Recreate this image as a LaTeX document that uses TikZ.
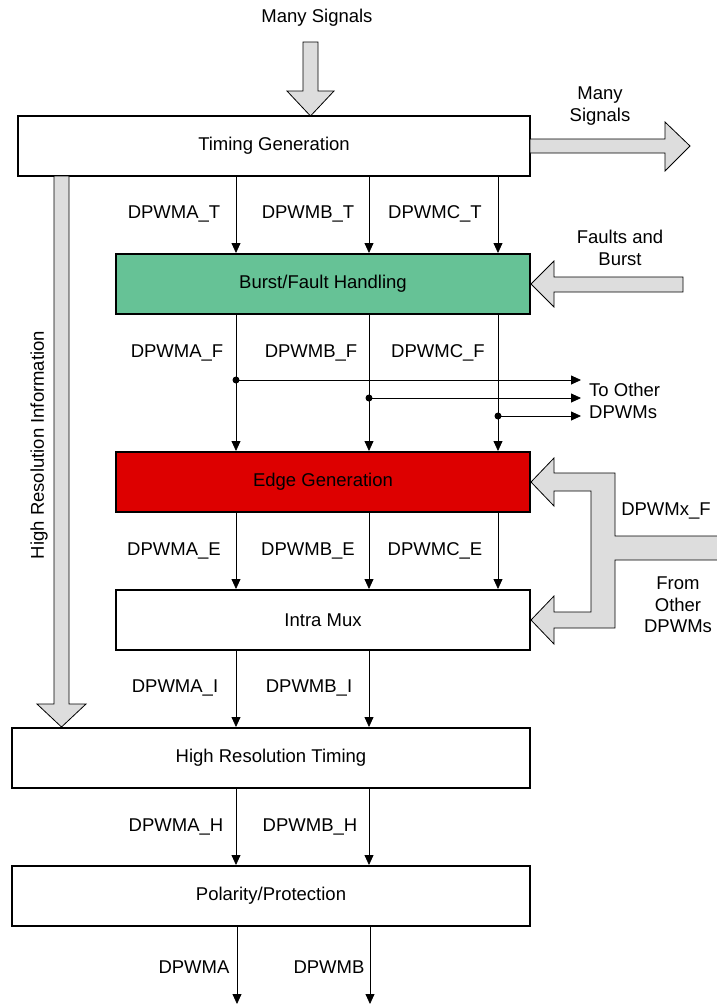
\documentclass[tikz,border=0pt]{standalone}
\usepackage{fontspec}
\setmainfont{Liberation Sans}
\usepackage{tikz}
\usetikzlibrary{shapes,arrows.meta}
\definecolor{burstgreen}{RGB}{102,194,150}
\definecolor{edgered}{RGB}{221,0,0}
\definecolor{bargray}{RGB}{221,221,221}

\begin{document}
\begin{tikzpicture}[x=1pt,y=-1pt,font=\fontsize{18.5pt}{21.5pt}\selectfont,
    block/.style={rectangle,draw,line width=2pt,minimum height=60pt,inner sep=0pt},
    sig/.style={-{Triangle[length=10pt,width=9pt]},line width=0.8pt},
    bigarrow/.style={draw,line width=0.8pt,fill=bargray},
    lbl/.style={inner sep=0pt,align=center}]
    \useasboundingbox (0,0) rectangle (716,1005);
    \coordinate (colA) at (236,0);
    \coordinate (colB) at (369,0);
    \coordinate (colC) at (498,0);
    \node [block,minimum width=512pt] (timing) at (274,146) {Timing Generation};
    \node [block,minimum width=414pt,fill=burstgreen] (burst) at (323,284) {Burst/Fault Handling};
    \node [block,minimum width=414pt,fill=edgered, below of=burst,node distance=198pt] (edge) {Edge Generation};
    \node [block,minimum width=414pt, below of=edge,node distance=138pt] (intramux) {Intra Mux};
    \node [block,minimum width=518pt] (hrtiming) at (271,758) {High Resolution Timing};
    \node [block,minimum width=518pt, below of=hrtiming,node distance=138pt] (polarity) {Polarity/Protection};
    \node [lbl] (manyTop) at (317,18) {Many Signals};
    \node [lbl] (manyRight) at (600,106) {Many\\Signals};
    \node [lbl] (faults) at (620,248) {Faults and\\Burst};
    \node [lbl,align=left,anchor=west] (toOther) at (589,401) {To Other\\DPWMs};
    \node [lbl] (dpwmxF) at (666,511) {DPWMx\_F};
    \node [lbl] (fromOther) at (678,605) {From\\Other\\DPWMs};
    \node [lbl,rotate=90] (hrInfo) at (39,445) {High Resolution Information};
    \node [lbl] (lblAT) at (174,214) {DPWMA\_T};
    \node [lbl] (lblBT) at (308,214) {DPWMB\_T};
    \node [lbl] (lblCT) at (435,214) {DPWMC\_T};
    \node [lbl] (lblAF) at (177,353) {DPWMA\_F};
    \node [lbl] (lblBF) at (311,353) {DPWMB\_F};
    \node [lbl] (lblCF) at (438,353) {DPWMC\_F};
    \node [lbl] (lblAE) at (174,551) {DPWMA\_E};
    \node [lbl] (lblBE) at (308,551) {DPWMB\_E};
    \node [lbl] (lblCE) at (435,551) {DPWMC\_E};
    \node [lbl] (lblAI) at (175,688) {DPWMA\_I};
    \node [lbl] (lblBI) at (309,688) {DPWMB\_I};
    \node [lbl] (lblAH) at (176,827) {DPWMA\_H};
    \node [lbl] (lblBH) at (310,827) {DPWMB\_H};
    \node [lbl] (lblA) at (194,967) {DPWMA};
    \node [lbl] (lblB) at (329,967) {DPWMB};
    \draw [bigarrow] (303,42) -- (318,42) -- (318,91) -- (334,91) -- (310.5,116) -- (287,91) -- (303,91) -- cycle;
    \draw [bigarrow] (530,139) -- (665,139) -- (665,122) -- (690,146) -- (665,171) -- (665,153) -- (530,153) -- cycle;
    \draw [bigarrow] (683,277) -- (554,277) -- (554,261) -- (burst.east) -- (554,307) -- (554,292) -- (683,292) -- cycle;
    \draw [bigarrow] (54,176) -- (69,176) -- (69,704) -- (86,704) -- (61.5,727) -- (37,704) -- (54,704) -- cycle;
    \draw [bigarrow] (720,536) -- (615,536) -- (615,473) -- (554,473) -- (554,458) -- (edge.east) -- (554,506) -- (554,491) -- (591,491) -- (591,612) -- (554,612) -- (554,596) -- (intramux.east) -- (554,644) -- (554,628) -- (615,628) -- (615,560) -- (720,560);
    \draw [sig] (timing.south -| colA) -- (burst.north -| colA);
    \draw [sig] (timing.south -| colB) -- (burst.north -| colB);
    \draw [sig] (timing.south -| colC) -- (burst.north -| colC);
    \draw [sig] (burst.south -| colA) -- (edge.north -| colA);
    \draw [sig] (burst.south -| colB) -- (edge.north -| colB);
    \draw [sig] (burst.south -| colC) -- (edge.north -| colC);
    \coordinate (dotA) at (236,380);
    \coordinate (dotB) at (369,398);
    \coordinate (dotC) at (498,416);
    \coordinate (toA) at (581,380);
    \coordinate (toB) at (581,398);
    \coordinate (toC) at (581,416);
    \fill (dotA) circle (3.5pt);
    \fill (dotB) circle (3.5pt);
    \fill (dotC) circle (3.5pt);
    \draw [sig] (dotA) -- (toA);
    \draw [sig] (dotB) -- (toB);
    \draw [sig] (dotC) -- (toC);
    \draw [sig] (edge.south -| colA) -- (intramux.north -| colA);
    \draw [sig] (edge.south -| colB) -- (intramux.north -| colB);
    \draw [sig] (edge.south -| colC) -- (intramux.north -| colC);
    \draw [sig] (intramux.south -| colA) -- (hrtiming.north -| colA);
    \draw [sig] (intramux.south -| colB) -- (hrtiming.north -| colB);
    \draw [sig] (hrtiming.south -| colA) -- (polarity.north -| colA);
    \draw [sig] (hrtiming.south -| colB) -- (polarity.north -| colB);
    \coordinate (outA) at (237,1004);
    \coordinate (outB) at (370,1004);
    \draw [sig] (polarity.south -| outA) -- (outA);
    \draw [sig] (polarity.south -| outB) -- (outB);
  \end{tikzpicture}
\end{document}
